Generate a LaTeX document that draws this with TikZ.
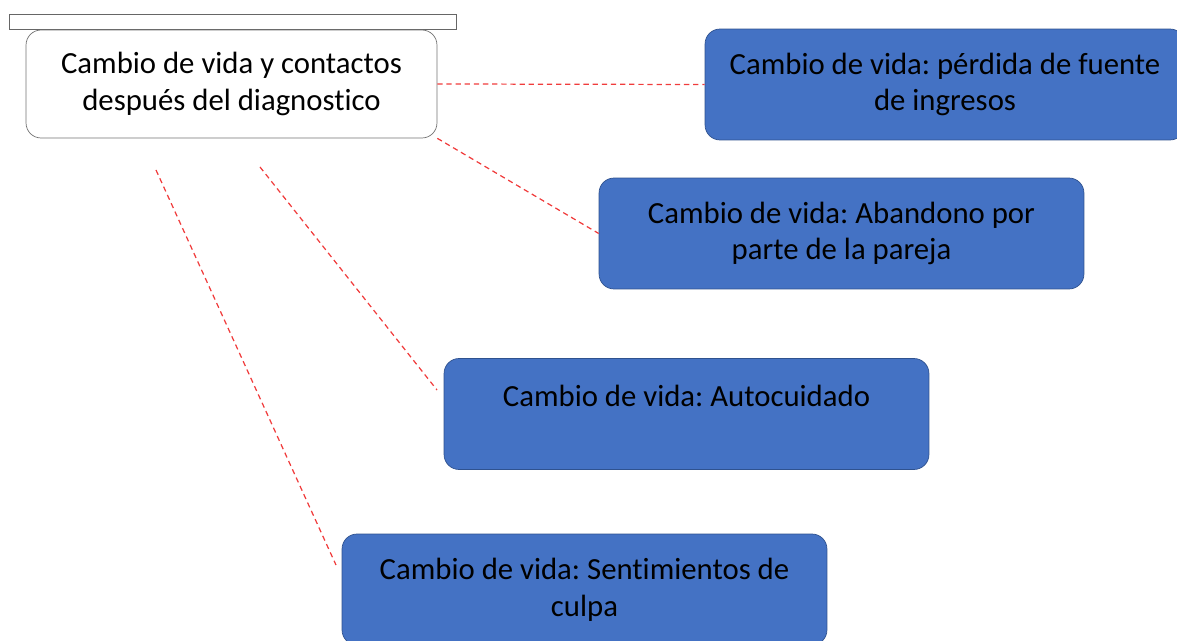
\documentclass[tikz,border=0pt]{standalone}
\usepackage{fontspec}
\setmainfont{Carlito}[Ligatures=NoCommon]
\usetikzlibrary{positioning}
\frenchspacing

\definecolor{boxblue}{HTML}{4472C4}
\definecolor{boxedge}{HTML}{2F528F}
\definecolor{linkred}{HTML}{F03C3C}

\tikzset{
  topic/.style={draw=gray!90!black, fill=white, rounded corners=0.3cm, align=center,
    minimum width=8.22cm, minimum height=2.16cm, font=\fontsize{17.5}{21}\selectfont},
  change/.style={draw=boxedge, fill=boxblue, rounded corners=0.3cm, align=center,
    minimum width=9.7cm, minimum height=2.22cm, font=\fontsize{17.5}{21}\selectfont},
  link/.style={draw=linkred, line width=0.7pt, dash pattern=on 3pt off 2.2pt}
}

\begin{document}
\begin{tikzpicture}[x=0.02cm, y=-0.02cm]
\useasboundingbox (0,0) rectangle (1177,641);

\draw[gray!80!black, fill=white] (9,14) rectangle (456,29);

\node[topic] (life) at (231.5,84) {Cambio de vida y contactos\\después del diagnostico};

\node[change, minimum width=9.6cm] (income) at (945,84.5) {Cambio de vida: pérdida de fuente\\de ingresos};
\node[change] (partner) at (841.5,233.5) {Cambio de vida: Abandono por\\parte de la pareja};
\node[change] (care) at (686.5,414) {Cambio de vida: Autocuidado\\~};
\node[change] (guilt) at (584.5,589.5) {Cambio de vida: Sentimientos de\\culpa};

% free ends of the long links
\coordinate (c1) at (260,167);
\coordinate (c2) at (156,170);
\coordinate (care-in) at (437,390);
\coordinate (guilt-in) at (336,565);

\draw[link] (life.east) -- (income.west);
\draw[link] (life.south east) -- (partner.west);
\draw[link] (c1) -- (care-in);
\draw[link] (c2) -- (guilt-in);

\end{tikzpicture}
\end{document}
